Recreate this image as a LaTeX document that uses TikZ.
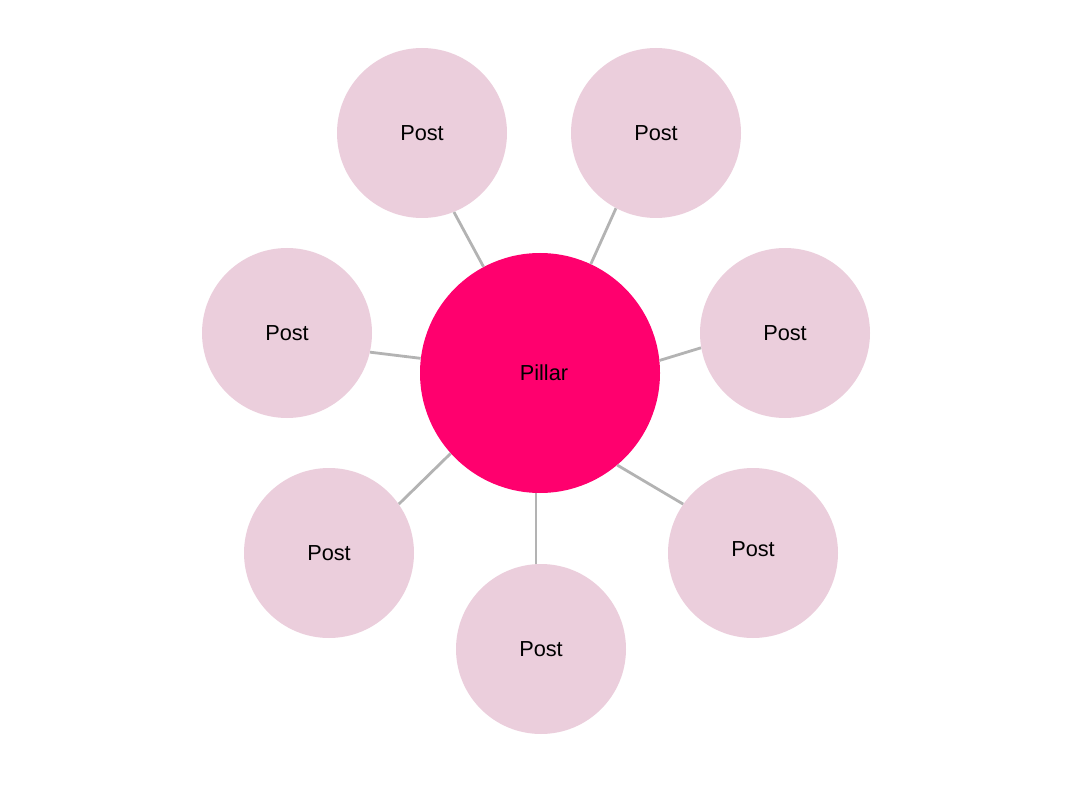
\documentclass[tikz,border=0pt]{standalone}
\usepackage{fontspec}
\setmainfont{Liberation Sans}
\definecolor{postfill}{HTML}{EBCEDC}
\definecolor{pillarfill}{HTML}{FF006E}
\definecolor{linkgray}{HTML}{B3B3B3}
\begin{document}
\begin{tikzpicture}[x=0.75pt,y=-0.75pt,
  post/.style={circle,fill=postfill,minimum size=127.5pt,inner sep=0pt,font=\fontsize{16.3}{19}\selectfont},
  pillar/.style={circle,fill=pillarfill,minimum size=180pt,inner sep=0pt,font=\fontsize{16.3}{19}\selectfont},
  link/.style={draw=linkgray,line width=2.1pt}]
\useasboundingbox (0,0) rectangle (1075,795);
\node[pillar] (c) at (540,373) {\hspace*{6pt}\raisebox{-2pt}{Pillar}};
\node[post] (p1) at (422,133) {Post};
\node[post] (p2) at (656,133) {Post};
\node[post] (p3) at (785,333) {Post};
\node[post] (p4) at (753,553) {\raisebox{6pt}{Post}};
\node[post] (p5) at (541,649) {Post};
\node[post] (p6) at (329,553) {Post};
\node[post] (p7) at (287,333) {Post};
\draw[link] (c.118.3) -- (p1.-68.6);
\draw[link] (c.65.6) -- (p2.-118);
\draw[link] (c.6.2) -- (p3.-170);
\draw[link] (c.-50.1) -- (p4.145.6);
\draw[link] ([xshift=-3pt]c.south) -- ([xshift=-3pt]c.south |- p5.north);
\draw[link] (c.-138.4) -- (p6.35.9);
\draw[link] (c.173.7) -- (p7.-13.5);
\end{tikzpicture}
\end{document}
